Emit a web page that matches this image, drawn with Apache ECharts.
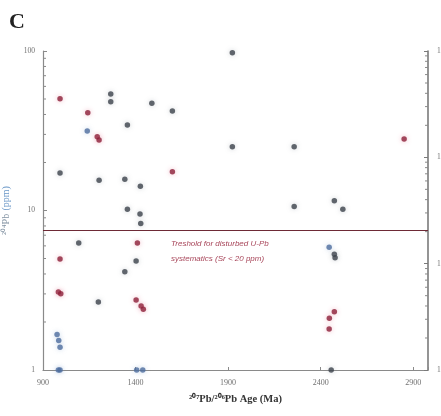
<!DOCTYPE html>
<html>
<head>
<meta charset="utf-8">
<script src="https://cdn.jsdelivr.net/npm/echarts@6/dist/echarts.min.js"></script>
<style>html,body{margin:0;padding:0;background:#fff}#c{width:441px;height:416px}</style>
</head>
<body>
<div id="c"></div>
<script>
// ---- data (207Pb/206Pb age in Ma, 204Pb in ppm) ----
const redAge  = [992, 1142, 1193, 1203, 1599, 2851, 1410, 992, 983, 996, 1403, 1430, 1442, 2474, 2447, 2446];
const redPb   = [50.2, 41.0, 29.0, 27.7, 17.5, 28.1, 6.25, 4.97, 3.08, 3.01, 2.75, 2.52, 2.40, 2.32, 2.11, 1.81];
const grayAge = [1266, 1266, 1488, 1599, 1356, 992, 1203, 1342, 1426, 1356, 1923, 1923, 2257, 2257, 2474, 2520, 1424, 1428, 1093, 1403, 1342, 1199, 2474, 2478, 2457];
const grayPb  = [53.8, 48.1, 47.0, 42.1, 34.4, 17.2, 15.5, 15.7, 14.2, 10.2, 97.5, 25.1, 25.1, 10.6, 11.5, 10.2, 9.5, 8.3, 6.25, 4.82, 4.13, 2.67, 5.31, 5.06, 1];
const blueAge = [1139, 976, 985, 992, 983, 992, 1406, 1439, 2446];
const bluePb  = [31.5, 1.67, 1.53, 1.39, 1, 1, 1, 1, 5.88];
const thresholdPb = 7.55;
const xTickLabels = [900, 1400, 1900, 2400, 2900];
const leftMinorTicks = [2,3,4,5,6,7,8,9,20,30,40,50,60,70,80,90];
const rightMinorTicks = [2,3,4,5,6,7,8,9,20,30,40,50,60,70,80,90,200,300,400,500,600,700,800,900];
const X_MIN = 900, X_MAX = 2980;

const zip = (a, b) => a.map((v, i) => [v, b[i]]);
const chart = echarts.init(document.getElementById('c'), null, {renderer: 'canvas'});
const serif = 'Liberation Serif';

function tickSeries(vals, yIdx, xAt, dir) {
  return {
    type: 'custom', yAxisIndex: yIdx, clip: false, silent: true, z: 1,
    data: vals.map(v => [xAt, v]),
    renderItem: function (params, api) {
      const p = api.coord([api.value(0), api.value(1)]);
      return {type: 'line', shape: {x1: p[0], y1: p[1], x2: p[0] + dir * 3, y2: p[1]},
              style: {stroke: '#8a8a8a', lineWidth: 1}};
    }
  };
}

chart.setOption({
  animation: false,
  backgroundColor: '#fff',
  grid: {left: 43, right: 13, top: 51, bottom: 46, containLabel: false, outerBoundsMode: 'none'},
  xAxis: {
    type: 'value', min: X_MIN, max: X_MAX, interval: 500,
    axisLine: {lineStyle: {color: '#8a8a8a', width: 1.2}},
    axisTick: {show: true, inside: true, length: 3, lineStyle: {color: '#8a8a8a'}},
    splitLine: {show: false},
    axisLabel: {fontFamily: serif, fontSize: 8, color: '#707070', margin: 9,
      formatter: v => xTickLabels.includes(v) ? String(v) : ''},
    name: '²⁰⁷Pb/²⁰⁶Pb Age (Ma)', nameLocation: 'middle', nameGap: 24,
    nameTextStyle: {fontFamily: serif, fontSize: 10.5, fontWeight: 'bold', color: '#333'}
  },
  yAxis: [{
    type: 'log', min: 1, max: 100, logBase: 10,
    axisLine: {show: true, lineStyle: {color: '#8a8a8a', width: 1.2}},
    axisTick: {show: true, inside: true, length: 4, lineStyle: {color: '#8a8a8a'}},
    splitLine: {show: false},
    axisLabel: {fontFamily: serif, fontSize: 7.5, color: '#707070', margin: 8, formatter: v => String(v)},
    name: '{a|²⁰⁴Pb} {b|(ppm)}', nameLocation: 'middle', nameGap: 31, nameRotate: 90,
    nameTextStyle: {rich: {
      a: {fontFamily: serif, fontSize: 10, color: '#8393a3'},
      b: {fontFamily: serif, fontSize: 10, color: '#6b98c8'}
    }}
  }, {
    type: 'log', min: 1, max: 1000, logBase: 10, position: 'right',
    axisLine: {show: true, lineStyle: {color: '#7a7a7a', width: 1.6}},
    axisTick: {show: true, inside: true, length: 4, lineStyle: {color: '#7a7a7a'}},
    splitLine: {show: false},
    axisLabel: {fontFamily: serif, fontSize: 7.5, color: '#707070', margin: 9, formatter: v => String(v)}
  }],
  series: [
    tickSeries(leftMinorTicks, 0, X_MIN, 1),
    tickSeries(rightMinorTicks, 1, X_MAX, -1),
    {
      type: 'scatter', name: 'disturbed', data: zip(grayAge, grayPb), symbolSize: 5.5, clip: false, z: 3,
      itemStyle: {color: '#3c424b', shadowBlur: 5, shadowColor: 'rgba(120,130,140,0.45)'},
      markLine: {silent: true, symbol: 'none', label: {show: false},
        lineStyle: {color: '#6e2a36', width: 1.2, type: 'solid'},
        data: [{yAxis: thresholdPb}]}
    },
    {
      type: 'scatter', name: 'red', data: zip(redAge, redPb), symbolSize: 5.5, clip: false, z: 4,
      itemStyle: {color: '#8c1f38', shadowBlur: 5, shadowColor: 'rgba(220,90,120,0.5)'}
    },
    {
      type: 'scatter', name: 'blue', data: zip(blueAge, bluePb), symbolSize: 5.5, clip: false, z: 4,
      itemStyle: {color: '#4d6d9e', shadowBlur: 5, shadowColor: 'rgba(110,150,200,0.45)'}
    }
  ],
  graphic: [
    {type: 'text', left: 9, top: 11, style: {text: 'C', fontFamily: serif, fontSize: 22, fontWeight: 'bold', fill: '#222'}},
    {type: 'text', left: 171, top: 236, style: {
      text: 'Treshold for disturbed U-Pb\nsystematics (Sr < 20 ppm)',
      fontFamily: 'Liberation Sans', fontStyle: 'italic', fontSize: 8, lineHeight: 15, fill: '#a8465a'}}
  ]
});
</script>
</body>
</html>
